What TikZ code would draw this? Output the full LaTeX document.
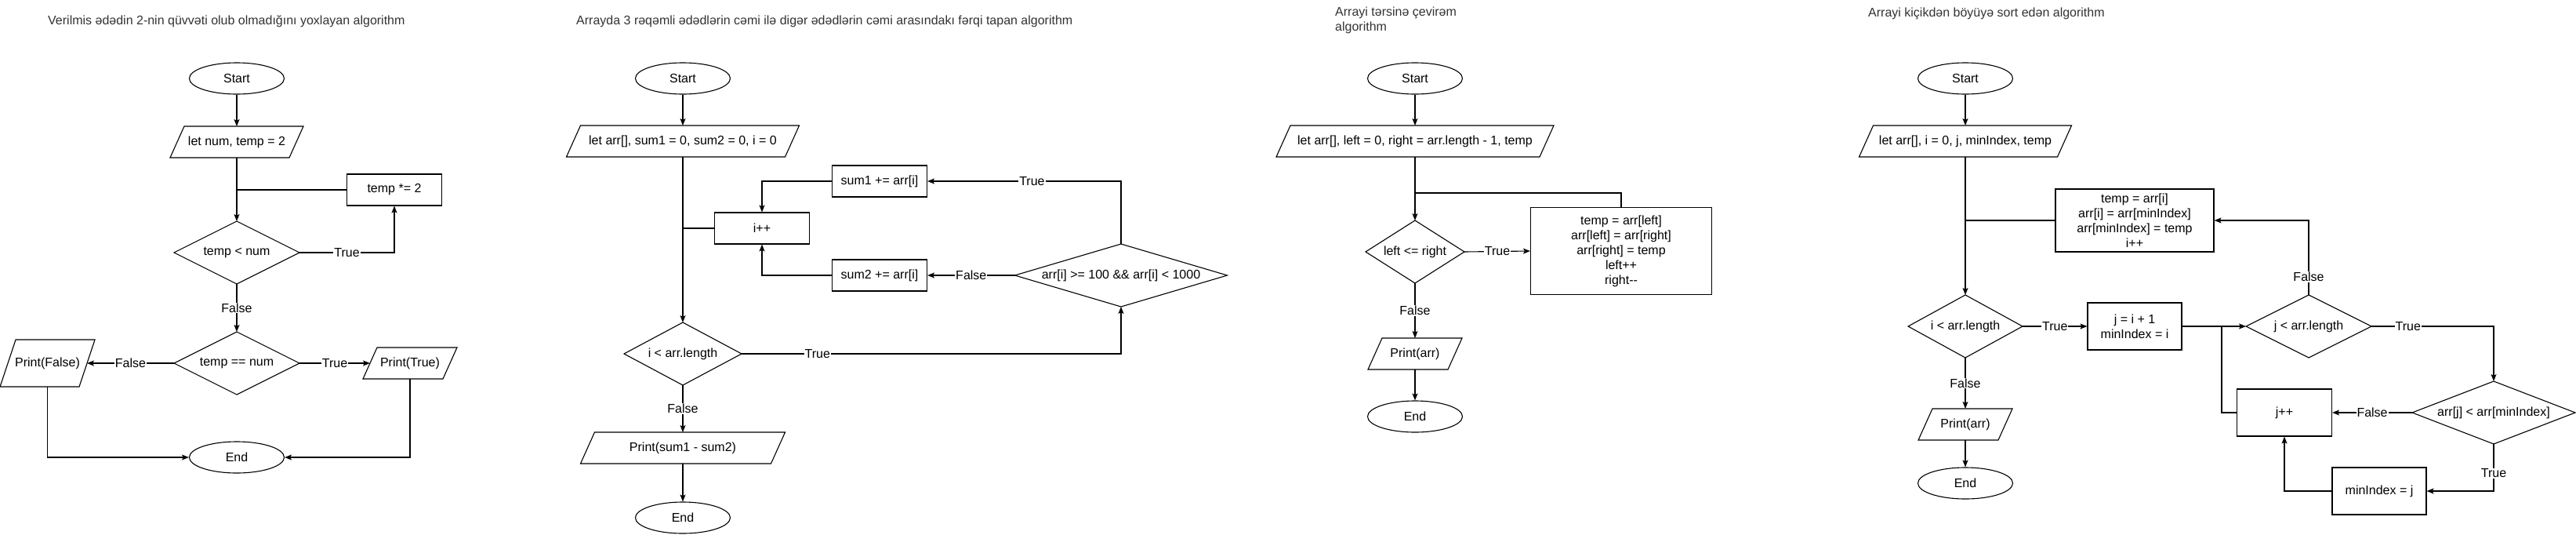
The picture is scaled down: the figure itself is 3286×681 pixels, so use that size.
\documentclass[tikz,border=0pt]{standalone}
\usepackage{fontspec}
\setmainfont{Liberation Sans}
\usetikzlibrary{shapes.geometric,arrows.meta,calc}
\definecolor{titlegray}{RGB}{51,51,51}
\newcommand{\paradraw}[2][18]{\draw[shapeline] ([xshift=#1pt]#2.north west) -- (#2.north east) -- ([xshift=-#1pt]#2.south east) -- (#2.south west) -- cycle;}
\begin{document}
\begin{tikzpicture}[x=1pt,y=-1pt,
  every node/.style={font=\fontsize{16}{19}\selectfont},
  shapeline/.style={line width=1.1pt},
  term/.style={ellipse,draw,shapeline,minimum width=121pt,minimum height=40pt,inner sep=0pt},
  proc/.style={rectangle,draw,shapeline,minimum width=121pt,minimum height=40pt,inner sep=2pt,align=center},
  io/.style={rectangle,minimum height=40pt,inner sep=0pt,outer sep=0pt},
  dia/.style={diamond,draw,shapeline,inner sep=0pt,outer sep=0pt,minimum width=160pt,minimum height=80pt},
  lab/.style={fill=white,inner sep=1pt},
  link/.style={line width=1.1pt,-{Stealth[length=9pt,width=7pt,inset=2pt]}},
  wire/.style={line width=1.1pt},
  ttl/.style={text=titlegray,anchor=west,align=left,inner sep=0pt}
]
\fill[white] (0,0) rectangle (3286,681);
\useasboundingbox (0,0) rectangle (3286,681);

% ---------- Panel 1
\node[ttl] (t1) at (61,27) {Verilmis ədədin 2-nin qüvvəti olub olmadığını yoxlayan algorithm};
\node[term] (s1) at (302,100) {Start};
\node[io,minimum width=170pt] (l1) at (302,181) {let num, temp = 2}; \paradraw{l1}
\node[proc] (m1) at (503,242) {temp *= 2};
\node[dia,label={center:{temp < num}}] (da1) at (302,322) {};
\node[dia,label={center:{temp == num}}] (db1) at (302,463) {};
\node[io,minimum width=121pt,minimum height=60pt] (pf1) at (60.5,463) {Print(False)}; \paradraw[20]{pf1}
\node[io,minimum width=120pt] (pt1) at (523,463) {Print(True)}; \paradraw{pt1}
\node[term] (e1) at (302,583) {End};
\draw[link] (s1) -- (l1);
\draw[link] (l1) -- (da1);
\draw[wire] (m1.west) -- (m1.west -| l1.south);
\draw[link] (da1.east) -| node[lab,pos=0.25]{True} (m1.south);
\draw[link] (da1) -- node[lab]{False} (db1);
\draw[link] (db1.west) -- node[lab]{False} ([xshift=-10pt]pf1.east);
\draw[link] (db1.east) -- node[lab]{True} ([xshift=9pt]pt1.west);
\draw[link] (pf1.south) |- (e1.west);
\draw[link] (pt1.south) |- (e1.east);

% ---------- Panel 2
\node[ttl] (t2) at (735,27) {Arrayda 3 rəqəmli ədədlərin cəmi ilə digər ədədlərin cəmi arasındakı fərqi tapan algorithm};
\node[term] (s2) at (871,100) {Start};
\node[io,minimum width=297pt] (l2) at (871,180) {let arr[], sum1 = 0, sum2 = 0, i = 0}; \paradraw{l2}
\node[proc] (a2) at (1122,231) {sum1 += arr[i]};
\node[proc] (i2) at (972,291) {i++};
\node[proc] (b2) at (1122,351) {sum2 += arr[i]};
\node[dia,minimum width=271pt,label={center:{arr[i] >= 100 \&\& arr[i] < 1000}}] (c2) at (1430,351) {};
\node[dia,minimum width=150pt,label={center:{i < arr.length}}] (d2) at (871,451) {};
\node[io,minimum width=261pt] (p2) at (871,571) {Print(sum1 - sum2)}; \paradraw{p2}
\node[term] (e2) at (871,660) {End};
\draw[link] (s2) -- (l2);
\draw[link] (l2) -- (d2);
\draw[wire] (i2.west) -- (i2.west -| l2.south);
\draw[link] (d2.east) -| node[lab,pos=0.1]{True} (c2.south);
\draw[link] (c2.north) |- node[lab,pos=0.73]{True} (a2.east);
\draw[link] (c2.west) -- node[lab]{False} (b2.east);
\draw[link] (a2.west) -| (i2.north);
\draw[link] (b2.west) -| (i2.south);
\draw[link] (d2) -- node[lab]{False} (p2);
\draw[link] (p2) -- (e2);

% ---------- Panel 3
\node[ttl] (t3) at (1703,26) {Arrayi tərsinə çevirəm\\algorithm};
\node[term] (s3) at (1805,100) {Start};
\node[io,minimum width=354pt] (l3) at (1805,180) {let arr[], left = 0, right = arr.length - 1, temp}; \paradraw{l3}
\node[dia,minimum width=126pt,label={center:{left <= right}}] (d3) at (1805,321) {};
\node[proc,minimum width=231pt,minimum height=111pt] (b3) at (2068,320) {temp = arr[left]\\arr[left] = arr[right]\\arr[right] = temp\\left++\\right-{}-};
\node[io,minimum width=120pt] (p3) at (1805,451) {Print(arr)}; \paradraw{p3}
\node[term] (e3) at (1805,531) {End};
\coordinate (j3) at (1805,246);
\draw[link] (s3) -- (l3);
\draw[link] (l3) -- (d3);
\draw[wire] (b3.north) |- (j3);
\draw[link] (d3.east) -- node[lab]{True} (b3.west);
\draw[link] (d3) -- node[lab]{False} (p3);
\draw[link] (p3) -- (e3);

% ---------- Panel 4
\node[ttl] (t4) at (2383,17) {Arrayi kiçikdən böyüyə sort edən algorithm};
\node[term] (s4) at (2507,100) {Start};
\node[io,minimum width=271pt] (l4) at (2507,180) {let arr[], i = 0, j, minIndex, temp}; \paradraw{l4}
\node[proc,minimum width=202pt,minimum height=80pt] (tm4) at (2723,281) {temp = arr[i]\\arr[i] = arr[minIndex]\\arr[minIndex] = temp\\i++};
\node[dia,minimum width=146pt,label={center:{i < arr.length}}] (di4) at (2507,416) {};
\node[proc,minimum width=120pt,minimum height=60pt] (ji4) at (2723,416) {j = i + 1\\minIndex = i};
\node[dia,minimum width=160pt,label={center:{j < arr.length}}] (dj4) at (2945,416) {};
\node[dia,minimum width=208pt,label={center:{arr[j] < arr[minIndex]}}] (dm4) at (3181,526) {};
\node[proc,minimum width=121pt,minimum height=60pt] (jp4) at (2914,526) {j++};
\node[proc,minimum width=120pt,minimum height=60pt] (mi4) at (3035,626) {minIndex = j};
\node[io,minimum width=120pt] (p4) at (2507,541) {Print(arr)}; \paradraw{p4}
\node[term] (e4) at (2507,616) {End};
\coordinate (c4) at (2834,416);
\draw[link] (s4) -- (l4);
\draw[link] (l4) -- (di4);
\draw[wire] (tm4.west) -- (tm4.west -| l4.south);
\draw[link] (di4.east) -- node[lab]{True} (ji4.west);
\draw[link] (ji4.east) -- (dj4.west);
\draw[wire] (jp4.west) -| (c4);
\draw[link] (dj4.north) |- node[lab,pos=0.12]{False} (tm4.east);
\draw[link] (dj4.east) -| node[lab,pos=0.15]{True} (dm4.north);
\draw[link] (dm4.west) -- node[lab]{False} (jp4.east);
\draw[link] (dm4.south) |- node[lab,pos=0.31]{True} (mi4.east);
\draw[link] (mi4.west) -| (jp4.south);
\draw[link] (di4) -- node[lab]{False} (p4);
\draw[link] (p4) -- (e4);
\end{tikzpicture}
\end{document}
